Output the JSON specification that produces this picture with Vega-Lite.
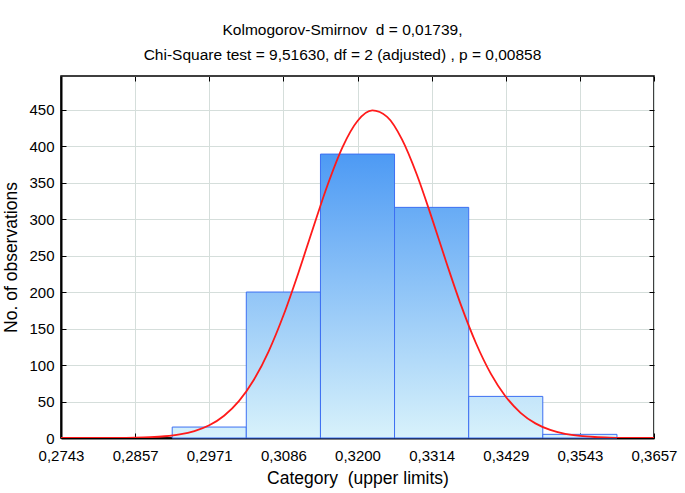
{
  "$schema": "https://vega.github.io/schema/vega-lite/v6.json",
  "width": 593,
  "height": 362,
  "autosize": {"type": "none"},
  "padding": {"left": 61, "top": 76, "right": 31, "bottom": 55},
  "background": "white",
  "config": {
    "locale": {"number": {"decimal": ",", "thousands": ".", "grouping": [3], "currency": ["", ""]}},
    "font": "Liberation Sans",
    "view": {"stroke": "black", "strokeWidth": 1.5}
  },
  "title": {
    "text": ["Kolmogorov-Smirnov\u00a0 d = 0,01739,", "Chi-Square test = 9,51630, df = 2 (adjusted) , p = 0,00858"],
    "fontSize": 15.5,
    "fontWeight": "normal",
    "lineHeight": 25,
    "offset": 12,
    "dx": -15,
    "anchor": "middle",
    "color": "black"
  },
  "datasets": {
    "bars": [
      {"lower": 0.29144, "upper": 0.30286, "count": 15},
      {"lower": 0.30286, "upper": 0.31429, "count": 200},
      {"lower": 0.31429, "upper": 0.32571, "count": 389},
      {"lower": 0.32571, "upper": 0.33714, "count": 316},
      {"lower": 0.33714, "upper": 0.34856, "count": 57},
      {"lower": 0.34856, "upper": 0.35999, "count": 5}
    ],
    "curve": [
      {"x": 0.2743, "y": 0.004},
      {"x": 0.276585, "y": 0.011},
      {"x": 0.27887, "y": 0.03},
      {"x": 0.281155, "y": 0.08},
      {"x": 0.28344, "y": 0.2},
      {"x": 0.285725, "y": 0.49},
      {"x": 0.28801, "y": 1.11},
      {"x": 0.290295, "y": 2.38},
      {"x": 0.29258, "y": 4.88},
      {"x": 0.294865, "y": 9.47},
      {"x": 0.29715, "y": 17.4},
      {"x": 0.299435, "y": 30.5},
      {"x": 0.30172, "y": 50.5},
      {"x": 0.304005, "y": 79.4},
      {"x": 0.30629, "y": 118.5},
      {"x": 0.308575, "y": 167.8},
      {"x": 0.31086, "y": 225.5},
      {"x": 0.313145, "y": 287.5},
      {"x": 0.31543, "y": 347.7},
      {"x": 0.317715, "y": 399.0},
      {"x": 0.32, "y": 434.4},
      {"x": 0.322285, "y": 448.8},
      {"x": 0.32457, "y": 440.0},
      {"x": 0.326855, "y": 409.2},
      {"x": 0.32914, "y": 361.1},
      {"x": 0.331425, "y": 302.3},
      {"x": 0.33371, "y": 240.2},
      {"x": 0.335995, "y": 181.0},
      {"x": 0.33828, "y": 129.5},
      {"x": 0.340565, "y": 87.9},
      {"x": 0.34285, "y": 56.6},
      {"x": 0.345135, "y": 34.5},
      {"x": 0.34742, "y": 20.0},
      {"x": 0.349705, "y": 11.0},
      {"x": 0.35199, "y": 5.75},
      {"x": 0.354275, "y": 2.84},
      {"x": 0.35656, "y": 1.34},
      {"x": 0.358845, "y": 0.6},
      {"x": 0.36113, "y": 0.25},
      {"x": 0.363415, "y": 0.1},
      {"x": 0.3657, "y": 0.04}
    ]
  },
  "layer": [
    {
      "data": {"name": "bars"},
      "mark": {"type": "rect", "stroke": "#3d6ff2", "strokeWidth": 1},
      "encoding": {
        "x": {
          "field": "lower",
          "type": "quantitative",
          "scale": {"domain": [0.2743, 0.3657], "nice": false, "zero": false},
          "axis": {
            "orient": "bottom",
            "values": [0.2743, 0.28573, 0.297145, 0.30858, 0.32, 0.33143, 0.342855, 0.35428, 0.3657],
            "format": ".4f",
            "title": "Category\u00a0 (upper limits)",
            "titleFontSize": 17.5,
            "titleFontWeight": "normal",
            "titleColor": "black",
            "titlePadding": 6,
            "labelFontSize": 15,
            "labelColor": "black",
            "labelPadding": 15,
            "labelFlush": false,
            "tickSize": -5,
            "tickColor": "black",
            "tickWidth": 1,
            "domainColor": "black",
            "domainWidth": 2,
            "grid": true,
            "gridColor": "#d5dedb",
            "gridWidth": 1
          }
        },
        "x2": {"field": "upper"},
        "y": {
          "field": "count",
          "type": "quantitative",
          "scale": {"domain": [0, 496], "nice": false},
          "axis": {
            "orient": "left",
            "values": [0, 50, 100, 150, 200, 250, 300, 350, 400, 450],
            "title": "No. of observations",
            "titleFontSize": 17.5,
            "titleFontWeight": "normal",
            "titleColor": "black",
            "titlePadding": 8,
            "labelFontSize": 15,
            "labelColor": "black",
            "labelPadding": 12,
            "tickSize": -5,
            "tickColor": "black",
            "domainColor": "black",
            "domainWidth": 2,
            "grid": true,
            "gridColor": "#d5dedb",
            "gridWidth": 1
          }
        },
        "y2": {"datum": 0},
        "fill": {
          "condition": [
            {"test": "datum.count === 389", "value": {"gradient": "linear", "x1": 0, "y1": 0, "x2": 0, "y2": 1, "stops": [{"offset": 0, "color": "#4d9af4"}, {"offset": 1, "color": "#d8f2fb"}]}},
            {"test": "datum.count === 316", "value": {"gradient": "linear", "x1": 0, "y1": 0, "x2": 0, "y2": 1, "stops": [{"offset": 0, "color": "#67abf5"}, {"offset": 1, "color": "#d8f2fb"}]}},
            {"test": "datum.count === 200", "value": {"gradient": "linear", "x1": 0, "y1": 0, "x2": 0, "y2": 1, "stops": [{"offset": 0, "color": "#91c5f7"}, {"offset": 1, "color": "#d8f2fb"}]}},
            {"test": "datum.count === 57", "value": {"gradient": "linear", "x1": 0, "y1": 0, "x2": 0, "y2": 1, "stops": [{"offset": 0, "color": "#c4e5fa"}, {"offset": 1, "color": "#d8f2fb"}]}},
            {"test": "datum.count === 15", "value": {"gradient": "linear", "x1": 0, "y1": 0, "x2": 0, "y2": 1, "stops": [{"offset": 0, "color": "#d3effb"}, {"offset": 1, "color": "#d8f2fb"}]}}
          ],
          "value": "#d6f1fb"
        }
      }
    },
    {
      "data": {"name": "curve"},
      "mark": {"type": "line", "color": "#ff1a1a", "strokeWidth": 1.8, "interpolate": "monotone", "clip": true},
      "encoding": {
        "x": {
          "field": "x",
          "type": "quantitative",
          "axis": {
            "orient": "top",
            "values": [0.2743, 0.28573, 0.297145, 0.30858, 0.32, 0.33143, 0.342855, 0.35428, 0.3657],
            "labels": false,
            "title": null,
            "domain": false,
            "grid": false,
            "tickSize": -5,
            "tickColor": "black"
          }
        },
        "y": {
          "field": "y",
          "type": "quantitative",
          "axis": {
            "orient": "right",
            "values": [0, 50, 100, 150, 200, 250, 300, 350, 400, 450],
            "labels": false,
            "title": null,
            "domain": false,
            "grid": false,
            "tickSize": -5,
            "tickColor": "black"
          }
        }
      }
    }
  ],
  "resolve": {"axis": {"x": "independent", "y": "independent"}}
}
